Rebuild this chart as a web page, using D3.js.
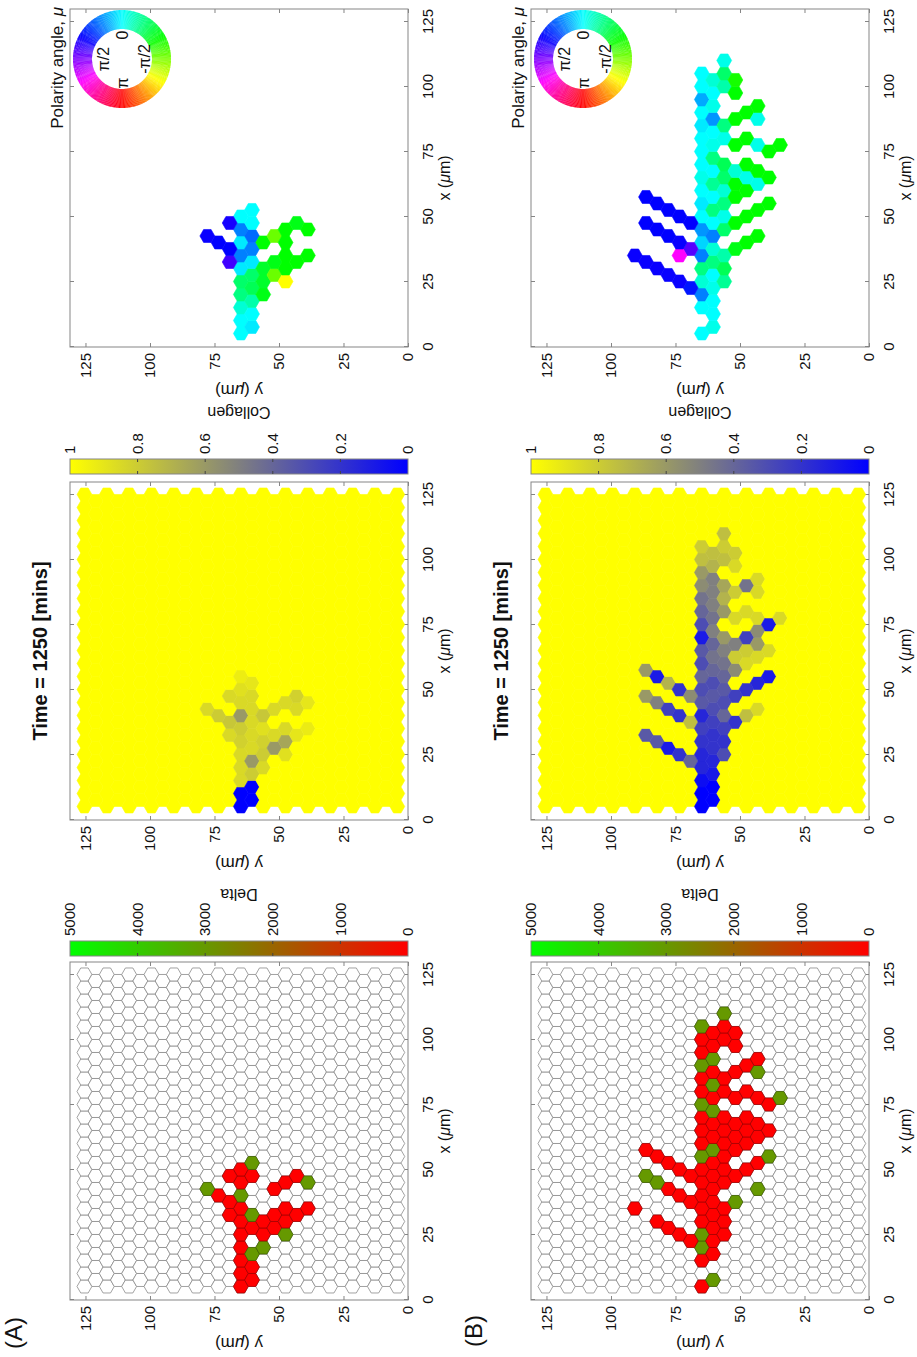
<!DOCTYPE html>
<html>
<head>
<meta charset="utf-8">
<script src="https://cdn.jsdelivr.net/npm/d3@7"></script>
<style>
  body { margin: 0; background: #fff; }
  svg { display: block; }
  text { font-family: "Liberation Sans", Arial, Helvetica, sans-serif; fill: #111; }
</style>
</head>
<body>
<div id="chart"></div>
<script>
// Hex-lattice snapshots (Delta, Collagen, Polarity) at t = 1250 min, drawn unrotated then turned -90deg.
// Cells are [column k, row i, value]; column k sits at y = 125.4 - 4.33k um, row i along x.

var TITLE = "Time = 1250 [mins]";
var AXIS_TICKS = [0, 25, 50, 75, 100, 125];
var DELTA_TICKS = [0, 1000, 2000, 3000, 4000, 5000];
var COLL_TICKS = [0, 0.2, 0.4, 0.6, 0.8, 1];
var COLL_LABELS = ["0", "0.2", "0.4", "0.6", "0.8", "1"];
var WHEEL_LABELS = [["0", 0], ["\u03c0/2", 90], ["\u03c0", 180], ["-\u03c0/2", -90]];

// ---- row A ----
var deltaA = [
  [14,0,0],[14,1,0],[14,2,0],[14,3,0],[14,4,0],[14,5,0],[14,6,0],[14,7,3000],[14,8,0],[14,9,0],
  [15,0,0],[15,1,0],[15,2,3000],[15,4,0],[15,5,3000],[15,8,0],[15,9,3000],
  [16,3,3000],[16,4,0],[16,5,0],
  [13,5,0],[13,6,0],[13,8,0],[12,7,0],[11,7,3000],
  [17,4,0],[17,5,0],[18,4,3000],[18,5,0],[18,6,0],[19,5,0],[20,6,0],
  [17,7,0],[18,8,0],[19,8,0],[20,8,3000]
];
var collagenA = [
  [14,0,0],[14,1,0],[15,0,0],[15,1,0],
  [14,2,0.85],[14,3,0.85],[14,4,0.85],[14,5,0.82],[14,6,0.8],[14,7,0.6],[14,8,0.85],[14,9,0.88],[14,10,0.93],
  [15,2,0.8],[15,3,0.6],[15,4,0.85],[15,5,0.85],[15,6,0.85],[15,7,0.85],[15,8,0.85],[15,9,0.9],
  [16,3,0.85],[16,4,0.8],[16,5,0.82],[16,6,0.88],[16,7,0.78],
  [13,5,0.85],[13,6,0.78],[13,8,0.85],[12,7,0.8],[11,7,0.85],
  [17,4,0.6],[17,5,0.85],[18,4,0.88],[18,5,0.65],[18,6,0.85],[19,5,0.9],[20,6,0.92],
  [17,7,0.85],[18,8,0.85],[19,7,0.85],[19,8,0.82],[20,8,0.9]
];
var polarA = [
  [14,0,0],[14,1,0],[14,2,-10],[14,3,-30],[14,4,-35],[14,5,5],[14,6,30],[14,7,5],[14,8,30],[14,9,0],
  [15,0,5],[15,1,0],[15,2,-20],[15,3,-40],[15,4,-35],[15,5,5],[15,6,30],[15,7,35],[15,8,0],[15,9,0],
  [16,3,-55],[16,4,-50],[16,5,-50],[16,7,-60],
  [13,5,75],[13,6,60],[13,8,65],[12,7,60],[11,7,62],
  [17,4,-85],[17,5,-55],[18,4,-120],[18,5,-60],[18,6,-60],[19,5,-60],[20,6,-60],
  [17,7,-85],[18,7,-60],[18,8,-60],[19,8,-55],[20,8,-60]
];

// ---- row B ----
var deltaB = [
  [14,0,0],[14,2,0],[14,3,3000],[14,4,3000],[14,5,0],[14,6,0],[14,7,0],[14,8,0],[14,9,0],[14,10,3000],
  [14,11,0],[14,12,0],[14,13,0],[14,14,3000],[14,15,0],[14,16,0],[14,17,3000],[14,18,0],[14,19,0],[14,20,3000],
  [15,0,3000],[15,2,0],[15,3,0],[15,4,0],[15,5,0],[15,6,0],[15,7,0],[15,8,0],[15,9,0],[15,10,3000],
  [15,11,0],[15,12,0],[15,13,3000],[15,14,0],[15,15,3000],[15,16,0],[15,17,3000],[15,18,0],[15,19,0],
  [16,4,0],[16,5,0],[16,6,0],[16,8,0],[16,9,0],[16,10,0],[16,11,0],[16,12,0],[16,13,0],[16,15,0],
  [16,16,0],[16,19,0],[16,20,0],[16,21,3000],
  [17,6,3000],[17,8,0],[17,10,0],[17,11,0],[17,12,0],[17,14,0],[17,16,0],[17,18,0],[17,19,0],
  [18,9,0],[18,11,0],[18,12,0],[18,13,0],[18,15,0],[18,17,0],
  [19,7,3000],[19,9,0],[19,11,0],[19,12,0],[19,14,0],[19,16,3000],[19,17,0],
  [20,10,3000],[20,12,0],[20,14,0],[21,14,3000],
  [13,3,0],[13,6,0],[13,8,0],[12,4,0],[12,7,0],[12,9,0],[11,4,0],[11,7,0],[11,9,0],
  [10,5,0],[10,8,3000],[10,10,0],[9,8,3000],[9,10,0],[8,6,0]
];
var collagenB = [
  [14,0,0],[14,1,0],[14,2,0.05],[14,3,0.15],[14,4,0.15],[14,5,0.2],[14,6,0.25],[14,7,0.15],[14,8,0.35],[14,9,0.3],
  [14,10,0.4],[14,11,0.3],[14,12,0.35],[14,13,0.1],[14,14,0.3],[14,15,0.4],[14,16,0.45],[14,17,0.55],[14,18,0.6],[14,19,0.75],[14,20,0.8],
  [15,0,0],[15,1,0],[15,2,0.1],[15,3,0.15],[15,4,0.2],[15,5,0.2],[15,6,0.25],[15,7,0.3],[15,8,0.35],[15,9,0.3],
  [15,10,0.4],[15,11,0.45],[15,12,0.4],[15,13,0.5],[15,14,0.45],[15,15,0.5],[15,16,0.5],[15,17,0.5],[15,18,0.7],[15,19,0.75],
  [16,4,0.3],[16,5,0.2],[16,6,0.25],[16,7,0.4],[16,8,0.3],[16,9,0.35],[16,10,0.4],[16,11,0.45],[16,12,0.5],[16,13,0.6],
  [16,15,0.6],[16,16,0.7],[16,17,0.65],[16,19,0.75],[16,20,0.8],[16,21,0.75],
  [17,6,0.2],[17,8,0.25],[17,10,0.55],[17,11,0.8],[17,12,0.5],[17,14,0.85],[17,16,0.8],[17,18,0.85],[17,19,0.8],
  [18,7,0.75],[18,9,0.2],[18,11,0.85],[18,12,0.8],[18,13,0.25],[18,15,0.85],[18,17,0.45],
  [19,7,0.85],[19,9,0.15],[19,11,0.85],[19,12,0.6],[19,13,0.55],[19,14,0.85],[19,16,0.85],[19,17,0.85],
  [20,10,0.1],[20,12,0.85],[20,14,0.1],[21,14,0.85],
  [13,3,0.4],[13,6,0.75],[13,8,0.55],[12,4,0.2],[12,7,0.2],[12,9,0.2],[11,4,0.1],[11,7,0.25],[11,9,0.7],
  [10,5,0.35],[10,8,0.5],[10,10,0.1],[9,5,0.35],[9,8,0.6],[9,10,0.6]
];
var polarB = [
  [14,0,0],[14,2,0],[14,3,30],[14,4,-10],[14,5,-30],[14,6,30],[14,7,10],[14,8,25],[14,9,0],[14,10,5],
  [14,11,0],[14,12,-5],[14,13,0],[14,14,0],[14,15,0],[14,16,5],[14,17,0],[14,18,20],[14,19,0],[14,20,0],
  [15,0,-5],[15,1,0],[15,2,0],[15,3,-5],[15,4,0],[15,5,-30],[15,6,-10],[15,7,30],[15,8,0],[15,9,-30],
  [15,10,0],[15,11,-25],[15,12,0],[15,13,-30],[15,14,-5],[15,15,0],[15,16,25],[15,17,-5],[15,18,0],[15,19,-10],
  [16,4,-25],[16,5,-40],[16,6,-20],[16,8,-35],[16,9,-5],[16,10,-30],[16,11,-10],[16,12,-35],[16,13,-40],[16,15,-5],
  [16,16,-30],[16,19,-20],[16,20,-35],[16,21,-5],
  [17,6,-55],[17,8,-60],[17,10,-60],[17,11,-60],[17,12,-10],[17,14,-60],[17,16,-60],[17,18,-60],[17,19,-65],
  [18,7,-60],[18,9,-60],[18,11,-60],[18,12,-5],[18,13,-60],[18,15,-60],[18,17,-60],
  [19,7,-60],[19,9,-60],[19,11,-5],[19,12,-60],[19,14,-5],[19,16,-5],[19,17,-60],
  [20,10,-60],[20,12,-60],[20,14,-60],[21,14,-60],
  [13,3,55],[13,6,80],[13,8,60],[12,4,62],[12,6,120],[12,7,62],[12,9,60],[11,4,62],[11,7,60],[11,9,60],
  [10,5,62],[10,8,60],[10,10,60],[9,5,62],[9,8,60],[9,10,60],[8,6,62]
];

var ROWS = [
  { tag: "(A)", delta: deltaA, collagen: collagenA, polar: polarA },
  { tag: "(B)", delta: deltaB, collagen: collagenB, polar: polarB }
];

// ---- layout (unrotated figure coordinates, 1357 x 917) ----
var PAGE_W = 917, PAGE_H = 1357;
var PW = 338, PH = 338;
var COL_X = [57, 537, 1010];
var ROW_Y = [70, 531];
var AX = "#858585";
var LAT = { cols: 29, y0: 125.4, dy: 4.33, dx: 5, xEven: 5.2, xOdd: 7.7, r: 2.887 };

var deltaColor = d3.scaleLinear().domain([0, 5000]).range(["#ff0000", "#00ff00"]);
var collColor = d3.scaleLinear().domain([0, 1]).range(["#0000ff", "#ffff00"]);
function polarColor(a) { return d3.hsl(180 + a, 1, 0.5).formatHex(); }

function center(k, i) { return [(k % 2 ? LAT.xOdd : LAT.xEven) + LAT.dx * i, LAT.y0 - LAT.dy * k]; }
var lattice = [];
for (var k = 0; k < LAT.cols; k++) {
  var n = k % 2 ? 24 : 25;
  for (var i = 0; i < n; i++) lattice.push([k, i]);
}
function hexPath(x, y, d) {
  var c = center(d[0], d[1]);
  var pts = [30, 90, 150, 210, 270, 330].map(function (a) {
    var t = a * Math.PI / 180;
    return [x(c[0] + LAT.r * Math.cos(t)).toFixed(2), y(c[1] + LAT.r * Math.sin(t)).toFixed(2)];
  });
  return "M" + pts.join("L") + "Z";
}

var svg = d3.select("#chart").append("svg").attr("width", PAGE_W).attr("height", PAGE_H);
var fig = svg.append("g").attr("transform", "translate(0," + PAGE_H + ") rotate(-90)");
var defs = svg.append("defs");

function styleAxis(g) {
  g.select(".domain").remove();
  g.selectAll("line").attr("stroke", AX);
  g.selectAll("text").attr("font-size", 15).attr("font-family", "Liberation Sans, Arial, sans-serif").attr("fill", "#111");
  g.attr("font-size", null).attr("font-family", null);
}

function frame(g, X0, Y0) {
  var x = d3.scaleLinear().domain([0, 130]).range([X0, X0 + PW]);
  var y = d3.scaleLinear().domain([0, 131]).range([Y0 + PH, Y0]);
  var fmt = function (d) { return d; };
  g.append("g").attr("transform", "translate(0," + (Y0 + PH) + ")")
    .call(d3.axisBottom(x).tickValues(AXIS_TICKS).tickFormat(fmt).tickSizeInner(-4).tickSizeOuter(0).tickPadding(14)).call(styleAxis);
  g.append("g").attr("transform", "translate(0," + Y0 + ")")
    .call(d3.axisTop(x).tickValues(AXIS_TICKS).tickFormat("").tickSizeInner(-4).tickSizeOuter(0)).call(styleAxis);
  g.append("g").attr("transform", "translate(" + X0 + ",0)")
    .call(d3.axisLeft(y).tickValues(AXIS_TICKS).tickFormat(fmt).tickSizeInner(-4).tickSizeOuter(0).tickPadding(6)).call(styleAxis);
  g.append("g").attr("transform", "translate(" + (X0 + PW) + ",0)")
    .call(d3.axisRight(y).tickValues(AXIS_TICKS).tickFormat("").tickSizeInner(-4).tickSizeOuter(0)).call(styleAxis);
  g.append("rect").attr("x", X0).attr("y", Y0).attr("width", PW).attr("height", PH)
    .attr("fill", "none").attr("stroke", AX).attr("stroke-width", 1);
  var xl = g.append("text").attr("x", X0 + PW / 2).attr("y", Y0 + PH + 42).attr("text-anchor", "middle").attr("font-size", 16);
  xl.append("tspan").text("x (");
  xl.append("tspan").attr("font-style", "italic").text("\u03bc");
  xl.append("tspan").text("m)");
  var yl = g.append("text").attr("transform", "translate(" + (X0 - 38) + "," + (Y0 + PH / 2) + ") rotate(-90)")
    .attr("text-anchor", "middle").attr("font-size", 17);
  yl.append("tspan").text("y (");
  yl.append("tspan").attr("font-style", "italic").text("\u03bc");
  yl.append("tspan").text("m)");
  return { x: x, y: y };
}

function colorbar(g, X, Y0, id, stops, scale, ticks, labels, title) {
  var grad = defs.append("linearGradient").attr("id", id).attr("x1", 0).attr("y1", 0).attr("x2", 0).attr("y2", 1);
  stops.forEach(function (c, j) {
    grad.append("stop").attr("offset", j / (stops.length - 1)).attr("stop-color", c);
  });
  g.append("rect").attr("x", X).attr("y", Y0).attr("width", 15).attr("height", PH)
    .attr("fill", "url(#" + id + ")").attr("stroke", AX).attr("stroke-width", 1);
  ticks.forEach(function (t, j) {
    var yy = scale(t);
    if (j > 0 && j < ticks.length - 1) {
      g.append("line").attr("x1", X).attr("x2", X + 3).attr("y1", yy).attr("y2", yy).attr("stroke", "#444");
      g.append("line").attr("x1", X + 12).attr("x2", X + 15).attr("y1", yy).attr("y2", yy).attr("stroke", "#444");
    }
    g.append("text").attr("x", X + 20).attr("y", yy).attr("dy", "0.35em").attr("font-size", 15).text(labels[j]);
  });
  g.append("text").attr("transform", "translate(" + (X + 67) + "," + (Y0 + PH / 2) + ") rotate(-90)")
    .attr("text-anchor", "middle").attr("font-size", 16).text(title);
}

function wheel(g, cx, cy) {
  var arc = d3.arc().innerRadius(30).outerRadius(49);
  var seg = d3.range(-180, 180, 1);
  g.append("g").attr("transform", "translate(" + cx + "," + cy + ")")
    .selectAll("path").data(seg).join("path")
    .attr("d", function (a) {
      var phi = (90 - a) * Math.PI / 180;
      return arc({ startAngle: phi - 0.6 * Math.PI / 180, endAngle: phi + 0.6 * Math.PI / 180 });
    })
    .attr("fill", function (a) { return polarColor(a); });
  WHEEL_LABELS.forEach(function (l) {
    var t = l[1] * Math.PI / 180;
    var rr = l[1] === 0 || l[1] === 180 ? 24 : 19;
    g.append("text").attr("x", cx + rr * Math.cos(t)).attr("y", cy - rr * Math.sin(t) + (l[1] === -90 ? 3 : 0))
      .attr("dy", "0.35em").attr("text-anchor", "middle").attr("font-size", 16).text(l[0]);
  });
}

ROWS.forEach(function (row, r) {
  var Y0 = ROW_Y[r];
  var g = fig.append("g");

  // Delta panel: empty lattice outlines + occupied cells
  var s = frame(g, COL_X[0], Y0);
  g.append("g").selectAll("path").data(lattice).join("path")
    .attr("d", function (d) { return hexPath(s.x, s.y, d); })
    .attr("fill", "#fff").attr("stroke", "#8a8a8a").attr("stroke-width", 0.8);
  g.append("g").selectAll("path").data(row.delta).join("path")
    .attr("d", function (d) { return hexPath(s.x, s.y, d); })
    .attr("fill", function (d) { return deltaColor(d[2]); })
    .attr("stroke", function (d) { return d3.color(deltaColor(d[2])).darker(1.2); })
    .attr("stroke-width", 0.8);
  colorbar(g, COL_X[0] + PW + 6, Y0, "gd" + r, ["#00ff00", "#ff0000"],
    d3.scaleLinear().domain([0, 5000]).range([Y0 + PH, Y0]), DELTA_TICKS, DELTA_TICKS.map(String), "Delta");

  // Collagen panel: every lattice cell filled
  var s2 = frame(g, COL_X[1], Y0);
  var cmap = new Map(row.collagen.map(function (d) { return [d[0] + "," + d[1], d[2]]; }));
  g.append("g").selectAll("path").data(lattice).join("path")
    .attr("d", function (d) { return hexPath(s2.x, s2.y, d); })
    .attr("fill", function (d) { var v = cmap.get(d[0] + "," + d[1]); return collColor(v === undefined ? 1 : v); })
    .attr("stroke", function (d) { var v = cmap.get(d[0] + "," + d[1]); return collColor(v === undefined ? 1 : v); })
    .attr("stroke-width", 0.6);
  colorbar(g, COL_X[1] + PW + 8, Y0, "gc" + r, ["#ffff00", "#0000ff"],
    d3.scaleLinear().domain([0, 1]).range([Y0 + PH, Y0]), COLL_TICKS, COLL_LABELS, "Collagen");
  g.append("text").attr("x", COL_X[1] + PW / 2).attr("y", Y0 - 23).attr("text-anchor", "middle")
    .attr("font-size", 20).attr("font-weight", "bold").text(TITLE);

  // Polarity panel
  var s3 = frame(g, COL_X[2], Y0);
  g.append("g").selectAll("path").data(row.polar).join("path")
    .attr("d", function (d) { return hexPath(s3.x, s3.y, d); })
    .attr("fill", function (d) { return polarColor(d[2]); })
    .attr("stroke", function (d) { return polarColor(d[2]); })
    .attr("stroke-width", 0.6);
  wheel(g, COL_X[2] + 288, Y0 + 52);
  var pl = g.append("text").attr("x", COL_X[2] + PW + 2).attr("y", Y0 - 7).attr("text-anchor", "end").attr("font-size", 17);
  pl.append("tspan").text("Polarity angle, ");
  pl.append("tspan").attr("font-style", "italic").text("\u03bc");

  g.append("text").attr("x", 8 + 2 * r).attr("y", Y0 - 48 + (r ? -1 : 0)).attr("font-size", 24).text(row.tag);
});
</script>
</body>
</html>
